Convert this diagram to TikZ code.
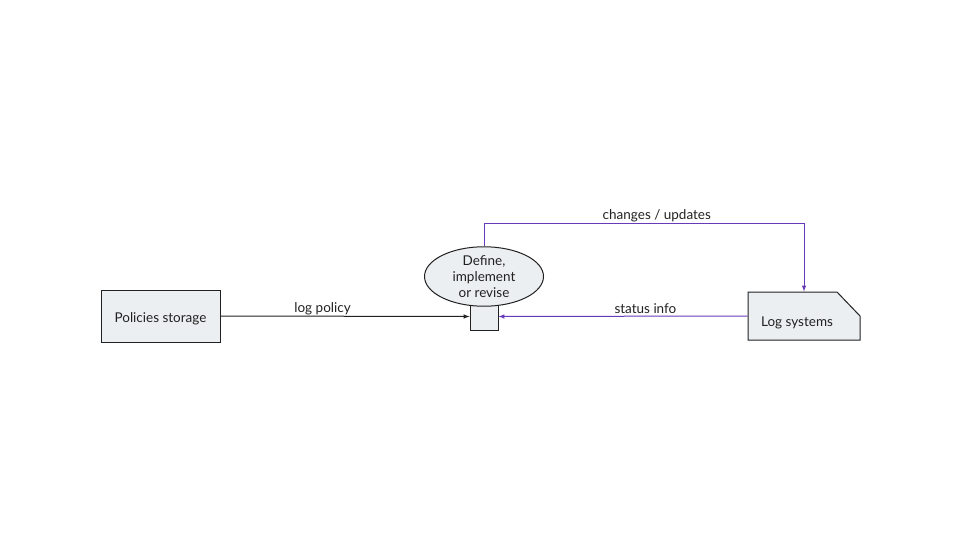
\documentclass[tikz,border=0pt]{standalone}
\usepackage{fontspec}
\setmainfont{Lato}
\usetikzlibrary{positioning,arrows,shapes.geometric,calc}

\definecolor{boxfill}{HTML}{ECEFF1}
\definecolor{boxline}{HTML}{212121}
\definecolor{flowpurple}{HTML}{673AB7}

\begin{document}
\begin{tikzpicture}[
		x=1pt,y=-1pt,
		line width=1pt,
		every node/.style={font=\fontsize{13.5}{16}\selectfont,text=boxline},
		store/.style={rectangle,draw=boxline,fill=boxfill,minimum width=119,minimum height=52},
		proc/.style={ellipse,draw=boxline,fill=boxfill,minimum width=119,minimum height=52,inner sep=0pt,align=center},
		port/.style={rectangle,draw=boxline,fill=boxfill,minimum width=28,minimum height=27},
		lbl/.style={above,inner sep=2pt}
	]

		\useasboundingbox (0,0) rectangle (960,540);

		% boxes
		\node[store,label={[yshift=-3pt]center:Policies storage}] (P) at (160.5,316) {};
		\node[port] (B) at (484,316.5) {};
		\node[proc] (E) at (484,276.5) {Define,\\implement\\or revise};

		% log systems, cut corner
		\draw[draw=boxline,fill=boxfill] (748,292) -- (837,292) -- (860,316) -- (860,340) -- (748,340) -- cycle;
		\node[minimum width=112,minimum height=48] (L) at (804,316) {};
		\node (Ltext) at (797,323) {Log systems};

		% flows
		\draw[->,>=latex,boxline] (P.east) -- node[lbl,pos=0.41,yshift=-1pt] {log policy} (B.west);
		\draw[->,>=latex,flowpurple] (L.west) -- node[lbl,pos=0.41] {status info} (B.east);
		\draw[->,>=latex,flowpurple] (E.north) -- (E.north |- 0,223) -- node[lbl,pos=0.54,yshift=-1pt] {changes / updates} (L.north |- 0,223) -- (L.north);
	\end{tikzpicture}
\end{document}
